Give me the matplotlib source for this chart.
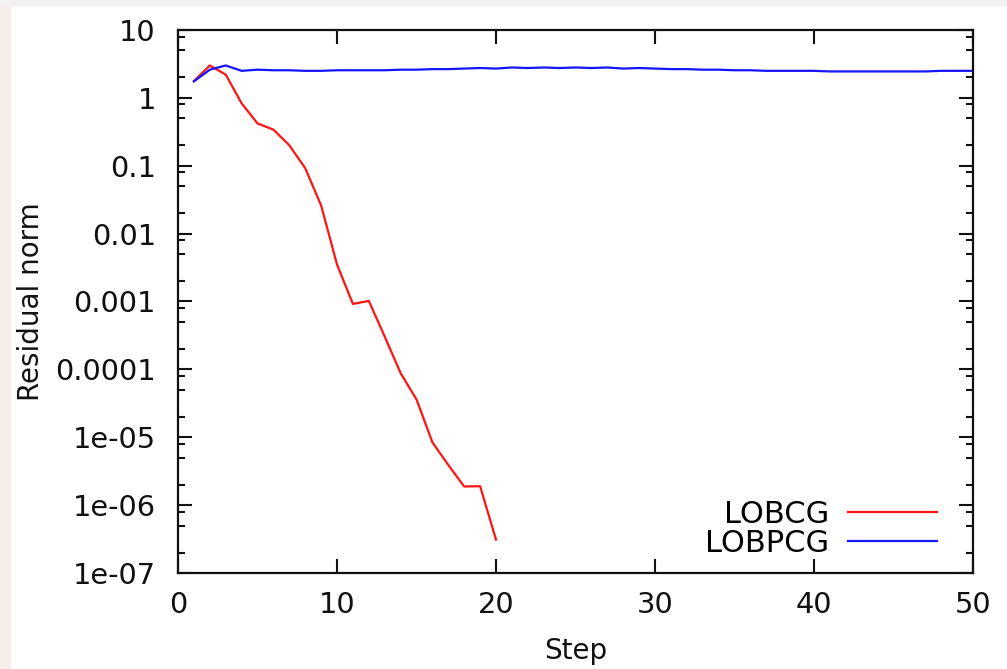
import matplotlib
matplotlib.use("Agg")
import matplotlib.pyplot as plt
from matplotlib.ticker import LogLocator, FixedLocator, NullFormatter
from matplotlib.patches import Rectangle

plt.rcParams['font.family'] = ['DejaVu Sans']
plt.rcParams['font.size'] = 20

# residual norm per step
lobcg_steps = list(range(1, 21))
lobcg_res = [1.77, 3.0, 2.2, 0.83, 0.42, 0.34, 0.20, 0.092, 0.026, 0.0035,
             0.00092, 0.00102, 0.000304, 8.8e-05, 3.6e-05, 8.4e-06, 3.9e-06,
             1.88e-06, 1.9e-06, 3.1e-07]

lobpcg_steps = list(range(1, 51))
lobpcg_res = [1.75, 2.6, 3.0, 2.5, 2.6, 2.55, 2.55, 2.5, 2.5, 2.55,
              2.55, 2.55, 2.55, 2.6, 2.6, 2.65, 2.65, 2.7, 2.75, 2.7,
              2.8, 2.75, 2.8, 2.75, 2.8, 2.75, 2.8, 2.7, 2.75, 2.7,
              2.65, 2.65, 2.6, 2.6, 2.55, 2.55, 2.5, 2.5, 2.5, 2.5,
              2.45, 2.45, 2.45, 2.45, 2.45, 2.45, 2.45, 2.5, 2.5, 2.5]

y_ticks = [1e-7, 1e-6, 1e-5, 1e-4, 1e-3, 1e-2, 1e-1, 1, 10]
y_labels = ["1e-07", "1e-06", "1e-05", "0.0001", "0.001", "0.01", "0.1", "1", "10"]
x_ticks = [0, 10, 20, 30, 40, 50]

fig = plt.figure(figsize=(10.07, 6.69), dpi=100)
# faint screenshot border
fig.patches.append(Rectangle((0, 0), 0.01, 1, transform=fig.transFigure,
                             color='#f6eeec', zorder=0))
fig.patches.append(Rectangle((0, 0.993), 1, 0.007, transform=fig.transFigure,
                             color='#f2f0f0', zorder=0))

ax = fig.add_axes([0.1768, 0.1435, 0.7894, 0.8117])

ax.plot(lobcg_steps, lobcg_res, color='#ff1414', lw=1.6, label="LOBCG")
ax.plot(lobpcg_steps, lobpcg_res, color='#1414ff', lw=1.6, label="LOBPCG")

ax.set_yscale('log')
ax.set_xlim(0, 50)
ax.set_ylim(1e-7, 10)

ax.yaxis.set_major_locator(FixedLocator(y_ticks))
ax.set_yticklabels(y_labels)
ax.yaxis.set_minor_locator(LogLocator(base=10, subs=(2, 5, 8)))
ax.yaxis.set_minor_formatter(NullFormatter())
ax.set_xticks(x_ticks)
ax.set_xticklabels([str(t) for t in x_ticks])

ax.tick_params(which='both', direction='in', top=True, right=True, width=1.5,
               color='#111111', labelcolor='#111111', labelsize=20.8)
ax.tick_params(which='major', length=10)
ax.tick_params(which='minor', length=5)
ax.tick_params(axis='y', which='major', pad=16)
ax.tick_params(axis='x', which='major', pad=13)
for s in ax.spines.values():
    s.set_linewidth(1.6)
    s.set_color('#111111')

ax.set_xlabel("Step", labelpad=13, color='#111111')
ax.set_ylabel("Residual norm", labelpad=7, color='#111111')

ax.legend(loc='lower right', frameon=False, markerfirst=False, fontsize=22,
          handlelength=2.9, handletextpad=0.62, labelspacing=0.0,
          borderpad=0, borderaxespad=0,
          bbox_to_anchor=(0.9547, 0.028))

fig.savefig("out.png", dpi=100)
